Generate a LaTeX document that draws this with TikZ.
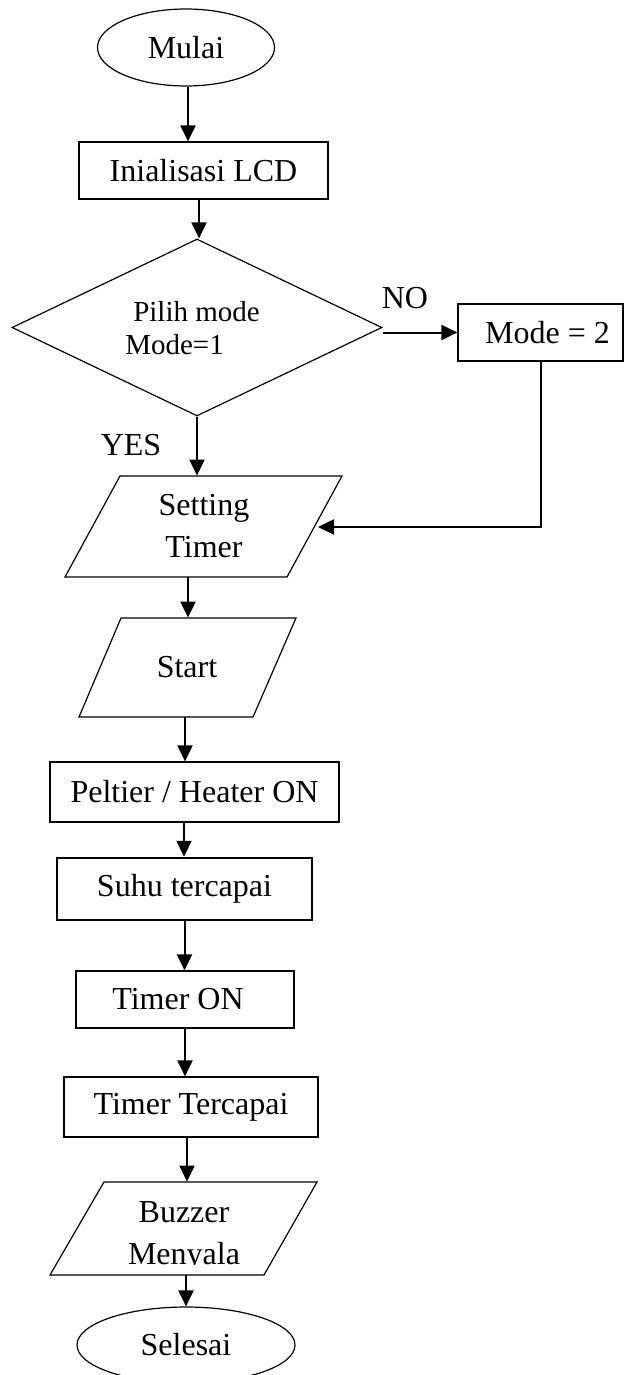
\documentclass[tikz,border=0pt]{standalone}
\usepackage{fontspec}
\setmainfont{Liberation Serif}
\usetikzlibrary{arrows.meta,shapes.geometric}
\begin{document}
\begin{tikzpicture}[x=0.5pt,y=-0.5pt,
  every node/.style={font=\fontsize{16}{21}\selectfont, inner sep=0pt},
  box/.style={draw, line width=0.6pt, rectangle},
  term/.style={draw, line width=0.6pt, ellipse},
  shapeline/.style={line width=0.6pt},
  arr/.style={-{Triangle[length=8pt,width=7.5pt]}, line width=1pt},
  link/.style={line width=1pt}]
\useasboundingbox (0,0) rectangle (625,1375);
\node[term, minimum width=88.5pt, minimum height=38.5pt] (mulai) at (186,47.5) {Mulai};
\node[box, minimum width=124.5pt, minimum height=28.5pt] (lcd) at (203.5,170.5) {Inialisasi LCD};
\node[draw, diamond, line width=0.6pt, minimum width=185pt, minimum height=88.5pt] (dec) at (197,327.5) {};
\node[font=\fontsize{14.5}{16.5}\selectfont, align=left] (dectext) at (192.5,328.5) {\hspace*{4pt}Pilih mode\\Mode=1};
\node[box, minimum width=82.5pt, minimum height=28.5pt] (mode2) at (540.5,332.5) {\hspace*{7pt}Mode = 2};
\node (no) at (405,298) {NO};
\node (yes) at (131,445) {YES};
% Setting Timer
\draw[shapeline] (120,476) -- (342,476) -- (287,577) -- (65,577) -- cycle;
\node[align=center, minimum height=50.5pt] (setting) at (204,526.5) {Setting\\Timer};
\coordinate (setR) at (318,527);
% Start
\draw[shapeline] (121,618) -- (296,618) -- (253,717) -- (79,717) -- cycle;
\node[minimum height=49.5pt] (start) at (187,667.5) {Start};
\node[box, minimum width=144.5pt, minimum height=30pt] (peltier) at (194.5,792) {Peltier / Heater ON};
\node[box, line width=1.2pt, minimum width=127.5pt, minimum height=31pt] (suhu) at (184.5,889) {Suhu tercapai};
\node[box, minimum width=109pt, minimum height=28.5pt] (timeron) at (185,999.5) {Timer ON\hspace*{7pt}};
\node[box, minimum width=127pt, minimum height=30pt] (tercapai) at (191,1107) {Timer Tercapai};
% Buzzer
\draw[shapeline] (104,1182) -- (317,1182) -- (264,1275) -- (50,1275) -- cycle;
\begin{scope}
\clip (0,1150) rectangle (625,1264);
\node[align=center, minimum height=54.5pt] (buzzer) at (184,1236.5) {Buzzer\\Menyala};
\end{scope}
\node[term, minimum width=109pt, minimum height=38pt] (selesai) at (186,1345) {Selesai};
% connectors
\draw[arr] ([xshift=1pt]mulai.south) -- ([xshift=1pt]mulai.south |- lcd.north);
\draw[arr] ([xshift=-2.25pt]lcd.south) -- ([xshift=-2.25pt]lcd.south |- dec.north);
\draw[arr] ([yshift=-2.5pt]dec.east) -- ([yshift=-2.5pt]dec.east -| mode2.west);
\draw[arr] (dec.south) -- (dec.south |- setting.north);
\draw[arr] (mode2.south) |- (setR);
\draw[arr] ([xshift=-8pt]setting.south) -- ([xshift=-8pt]setting.south |- start.north);
\draw[arr] ([xshift=-1pt]start.south) -- ([xshift=-1pt]start.south |- peltier.north);
\draw[arr] ([xshift=-5.25pt]peltier.south) -- ([xshift=-5.25pt]peltier.south |- suhu.north);
\draw[arr] (suhu.south) -- (suhu.south |- timeron.north);
\draw[arr] (timeron.south) -- (timeron.south |- tercapai.north);
\draw[arr] ([xshift=-2pt]tercapai.south) -- ([xshift=-2pt]tercapai.south |- buzzer.north);
\draw[arr] ([xshift=1pt,yshift=8pt]buzzer.south) -- ([xshift=1pt]buzzer.south |- selesai.north);
\end{tikzpicture}
\end{document}
